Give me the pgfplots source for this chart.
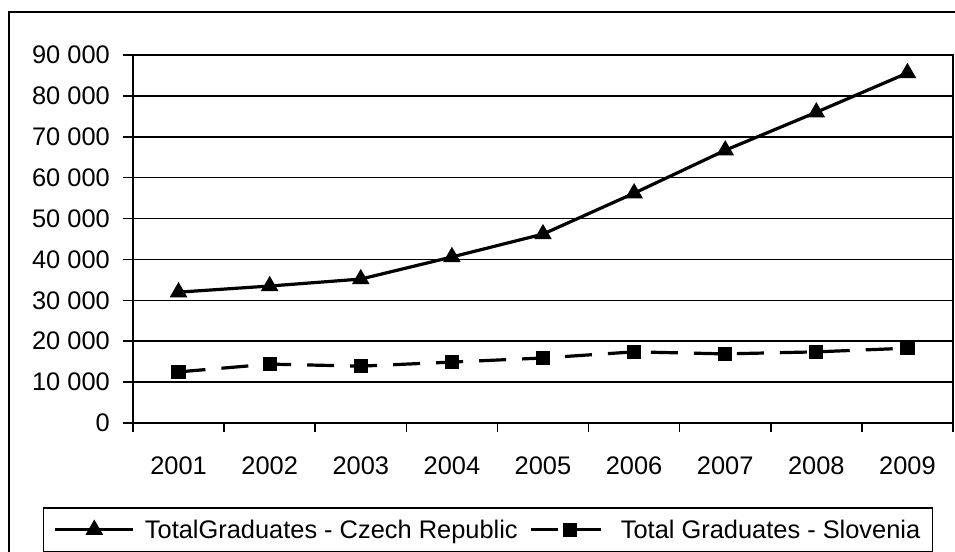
\documentclass[border=0pt]{standalone}
\usepackage{fontspec}
\setmainfont{Liberation Sans}
\usepackage{pgfplots}
\pgfplotsset{compat=1.18}

\begin{document}
\begin{tikzpicture}[font=\fontsize{25.5}{30}\selectfont]
\useasboundingbox (0,0) rectangle (955bp,552bp);
\clip (0,0) rectangle (955bp,552bp);
\begin{axis}[
  at={(133bp,129bp)}, anchor=south west,
  scale only axis, width=820bp, height=368bp,
  xmin=-0.5, xmax=8.5, ymin=0, ymax=90000,
  xtick={0,1,2,3,4,5,6,7,8},
  xticklabels={2001,2002,2003,2004,2005,2006,2007,2008,2009},
  minor xtick={-0.5,0.5,1.5,2.5,3.5,4.5,5.5,6.5,7.5,8.5},
  ytick={0,10000,20000,30000,40000,50000,60000,70000,80000,90000},
  yticklabels={0,10 000,20 000,30 000,40 000,50 000,60 000,70 000,80 000,90 000},
  scaled y ticks=false,
  tick align=outside, tick pos=left,
  major tick length=10bp, minor tick length=9bp,
  major x tick style={draw=none},
  tick style={black, line width=1.5bp},
  /pgf/number format/assume math mode=true,
  xticklabel style={inner sep=0pt, anchor=north, yshift=-24bp},
  yticklabel style={inner sep=0pt, anchor=east, xshift=-13bp},
  ymajorgrids, grid style={black, line width=1.5bp},
  axis line style={black, line width=1.8bp},
  legend style={at={(-0.1098,-0.2283)}, anchor=north west, draw=black,
    line width=1.5bp, legend columns=2, inner xsep=10bp, inner ysep=10bp,
    nodes={inner sep=2bp},
    /tikz/every odd column/.append style={column sep=8bp},
    /tikz/every even column/.append style={column sep=10bp}},
  legend cell align=left,
  legend image code/.code={
    \draw[#1, mark repeat=2, mark phase=2]
      plot coordinates {(0bp,0bp) (39bp,0bp) (78bp,0bp)};
  },
]
\addplot[black, line width=3.2bp, mark=triangle*, mark size=7bp,
  mark options={solid}] coordinates {
  (0,32000) (1,33500) (2,35200) (3,40600) (4,46200)
  (5,56200) (6,66700) (7,76000) (8,85600)
};
\addlegendentry{TotalGraduates - Czech Republic}
\addplot[black, line width=3.2bp, dash pattern=on 27bp off 16bp,
  mark=square*, mark size=5.5bp, mark options={solid}] coordinates {
  (0,12500) (1,14400) (2,13900) (3,14900) (4,15900)
  (5,17400) (6,16900) (7,17400) (8,18300)
};
\addlegendentry{Total Graduates - Slovenia}
\end{axis}
\draw[line width=2bp] (9bp,-20bp) rectangle (980bp,540bp);
\end{tikzpicture}
\end{document}
